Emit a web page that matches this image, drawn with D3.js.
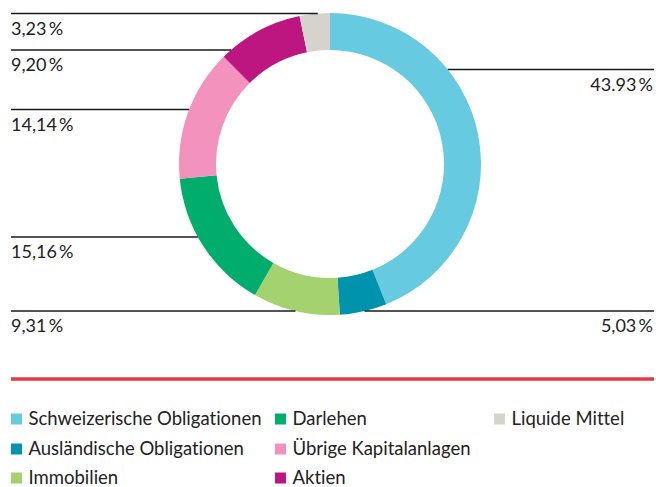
<!DOCTYPE html>
<html>
<head>
<meta charset="utf-8">
<script src="https://cdn.jsdelivr.net/npm/d3@7"></script>
<style>
  body { margin: 0; background: #fff; }
  text { font-family: Lato, "Open Sans", sans-serif; fill: #222; font-variant-ligatures: none; }
</style>
</head>
<body>
<div id="chart"></div>
<script>
// Data
const categories = ["Schweizerische Obligationen", "Ausländische Obligationen", "Immobilien",
    "Darlehen", "Übrige Kapitalanlagen", "Aktien", "Liquide Mittel"];
const values = [43.93, 5.03, 9.31, 15.16, 14.14, 9.20, 3.23];
const valueLabels = ["43.93\u2009%", "5,03\u2009%", "9,31\u2009%", "15,16\u2009%", "14,14\u2009%", "9,20\u2009%", "3,23\u2009%"];
const colors = ["#66cbe1", "#0093ae", "#a3d26f", "#00ad6c", "#f392bd", "#be1681", "#d6d3cd"];

// label layout: which side and at what height the leader line sits
const labelSide = ["right", "right", "left", "left", "left", "left", "left"];
const labelY = [69.5, 311, 311, 237, 109.5, 50, 13.5];

const width = 656, height = 487;
const cx = 330, cy = 164;
const outerR = 151, innerR = 114;

const svg = d3.select("#chart")
    .append("svg")
    .attr("width", width)
    .attr("height", height);

const data = categories.map((c, i) => ({ name: c, value: values[i], color: colors[i],
    label: valueLabels[i], side: labelSide[i], ly: labelY[i] }));

// Donut
const pie = d3.pie().sort(null).value(d => d.value);
const arc = d3.arc().innerRadius(innerR).outerRadius(outerR);

const g = svg.append("g").attr("transform", `translate(${cx},${cy})`);
g.selectAll("path")
    .data(pie(data))
    .enter()
    .append("path")
    .attr("d", arc)
    .attr("fill", d => d.data.color);

// Leader lines + labels
const leftX = 11, rightX = 654;
data.forEach(d => {
    const dy = d.ly - cy;
    const dx = Math.sqrt(Math.max(0, outerR * outerR - dy * dy));
    const x1 = d.side === "left" ? leftX : cx + dx;
    const x2 = d.side === "left" ? cx - dx : rightX;
    svg.append("line")
        .attr("x1", x1).attr("x2", x2)
        .attr("y1", d.ly).attr("y2", d.ly)
        .attr("stroke", "#1a1a1a")
        .attr("stroke-width", 1.3);
    svg.append("text")
        .attr("x", d.side === "left" ? leftX : rightX - 1)
        .attr("y", d.ly + 21)
        .attr("text-anchor", d.side === "left" ? "start" : "end")
        .attr("font-size", 18)
        .text(d.label);
});

// Red separator
svg.append("line")
    .attr("x1", 11).attr("x2", 654)
    .attr("y1", 379).attr("y2", 379)
    .attr("stroke", "#e63843")
    .attr("stroke-width", 3.5);

// Legend, filled column by column
const colX = [11, 275, 494];
const rowY = [413.5, 443.5, 472.5];
const legend = svg.append("g").attr("class", "legend");
data.forEach((d, i) => {
    const col = Math.floor(i / 3), row = i % 3;
    const item = legend.append("g")
        .attr("transform", `translate(${colX[col]},${rowY[row]})`);
    item.append("rect")
        .attr("width", 11).attr("height", 11)
        .attr("fill", d.color);
    item.append("text")
        .attr("x", 17.5)
        .attr("y", 11.5)
        .attr("font-size", 18.5)
        .text(d.name);
});
</script>
</body>
</html>
